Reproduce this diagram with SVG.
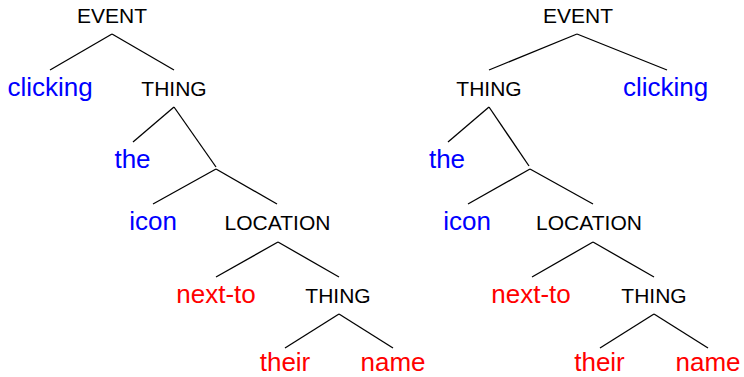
<svg xmlns="http://www.w3.org/2000/svg" width="744" height="377" viewBox="0 0 744 377">
<style>
text{font-family:"Liberation Sans",Arial,sans-serif;text-anchor:middle}
.cat{font-size:21px;fill:#000}
.b{font-size:26px;fill:#0000ff}
.r{font-size:26px;fill:#ff0000}
.edges line{stroke:#000;stroke-width:1.3}
</style>
<rect width="744" height="377" fill="#fff"/>
<g id="connectors" class="edges">
<line x1="112" y1="34" x2="50" y2="70"/><line x1="112" y1="34" x2="174" y2="70"/>
<line x1="174" y1="107" x2="133" y2="142"/><line x1="174" y1="107" x2="216" y2="167"/>
<line x1="216" y1="169" x2="153" y2="204"/><line x1="216" y1="169" x2="277" y2="204"/>
<line x1="278" y1="242" x2="216" y2="277"/><line x1="278" y1="242" x2="339" y2="277"/>
<line x1="339" y1="314" x2="285" y2="348"/><line x1="339" y1="314" x2="393" y2="348"/>
<line x1="577" y1="34" x2="489" y2="70"/><line x1="577" y1="34" x2="667" y2="70"/>
<line x1="489" y1="107" x2="448" y2="142"/><line x1="489" y1="107" x2="529" y2="166"/>
<line x1="530" y1="169" x2="468" y2="204"/><line x1="530" y1="169" x2="593" y2="204"/>
<line x1="593" y1="242" x2="532" y2="277"/><line x1="593" y1="242" x2="654" y2="277"/>
<line x1="654" y1="314" x2="600" y2="348"/><line x1="654" y1="314" x2="708" y2="348"/>
</g>
<g id="L-event"><text class="cat" x="112" y="23">EVENT</text></g>
<g id="L-clicking"><text class="b" x="50" y="96">clicking</text></g>
<g id="L-thing1"><text class="cat" x="174" y="96">THING</text></g>
<g id="L-the"><text class="b" x="132.5" y="168">the</text></g>
<g id="L-icon"><text class="b" x="153" y="230">icon</text></g>
<g id="L-location"><text class="cat" x="277.5" y="230">LOCATION</text></g>
<g id="L-nextto"><text class="r" x="216" y="303">next-to</text></g>
<g id="L-thing2"><text class="cat" x="338" y="303">THING</text></g>
<g id="L-their"><text class="r" x="285" y="371">their</text></g>
<g id="L-name"><text class="r" x="393" y="371">name</text></g>
<g id="R-event"><text class="cat" x="578" y="23">EVENT</text></g>
<g id="R-thing1"><text class="cat" x="489" y="96">THING</text></g>
<g id="R-clicking"><text class="b" x="665.5" y="96">clicking</text></g>
<g id="R-the"><text class="b" x="447" y="168">the</text></g>
<g id="R-icon"><text class="b" x="467" y="230">icon</text></g>
<g id="R-location"><text class="cat" x="589" y="230">LOCATION</text></g>
<g id="R-nextto"><text class="r" x="531" y="303">next-to</text></g>
<g id="R-thing2"><text class="cat" x="654" y="303">THING</text></g>
<g id="R-their"><text class="r" x="599.5" y="371">their</text></g>
<g id="R-name"><text class="r" x="708" y="371">name</text></g>
</svg>
